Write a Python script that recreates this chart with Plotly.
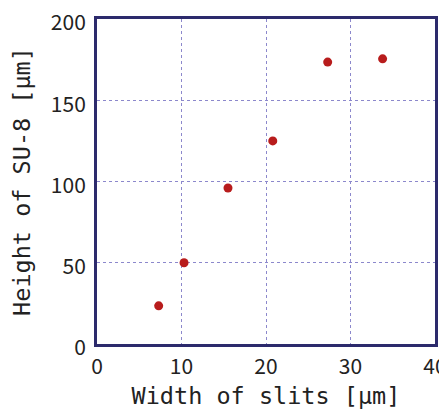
import plotly.graph_objects as go

slit_width = [7.3, 10.3, 15.5, 20.8, 27.3, 33.8]
su8_height = [23.5, 50, 96, 125, 173.5, 175.5]

x_ticks = [0, 10, 20, 30, 40]
y_ticks = [0, 50, 100, 150, 200]

navy = "#2c2a6c"
grid = "#8c88cc"

fig = go.Figure(
    go.Scatter(
        x=slit_width, y=su8_height, mode="markers",
        marker=dict(color="#b81c1c", size=9, line=dict(width=0)),
        showlegend=False, cliponaxis=False,
    )
)

# page body has an 8px margin, so the figure is sized/offset to compensate
fig.update_layout(
    width=439, height=408,
    margin=dict(l=89, r=12, t=11, b=72),
    paper_bgcolor="white", plot_bgcolor="white",
    font=dict(family="Noto Sans CJK JP", color="#222222"),
)

fig.update_xaxes(
    range=[0, 40], tickvals=x_ticks, ticktext=[str(v) for v in x_ticks],
    showline=True, linecolor=navy, linewidth=3, mirror=True,
    showgrid=True, gridcolor=grid, gridwidth=1, griddash="dot",
    zeroline=False, ticks="", ticklabelstandoff=2, automargin=False,
    ticklabeloverflow="allow",
    tickfont=dict(size=21, family="Noto Sans CJK JP"),
    title=dict(text="Width of slits [μm]", standoff=9,
               font=dict(size=23.5, family="DejaVu Sans Mono")),
)
fig.update_yaxes(
    range=[0, 200], tickvals=y_ticks, ticktext=[str(v) for v in y_ticks],
    showline=True, linecolor=navy, linewidth=3, mirror=True,
    showgrid=True, gridcolor=grid, gridwidth=1, griddash="dot",
    zeroline=False, ticks="", ticklabelstandoff=4, ticklabelshift=4,
    automargin=False, ticklabeloverflow="allow",
    tickfont=dict(size=21, family="Noto Sans CJK JP"),
    title=dict(text="Height of SU-8 [μm]", standoff=14,
               font=dict(size=23.5, family="DejaVu Sans Mono")),
)

fig.write_html("out.html")
